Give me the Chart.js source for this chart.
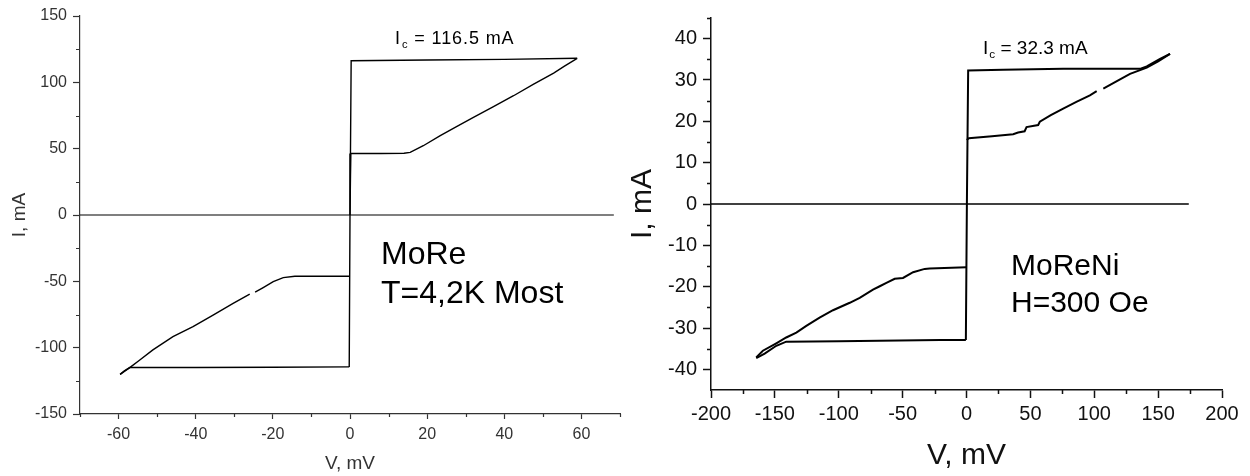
<!DOCTYPE html>
<html>
<head>
<meta charset="utf-8">
<script src="https://cdn.jsdelivr.net/npm/chart.js@4.4.1/dist/chart.umd.min.js"></script>
<style>
  html, body { margin: 0; padding: 0; background: #fff; }
  body { width: 1250px; height: 476px; position: relative; overflow: hidden;
         font-family: 'Liberation Sans', Arial, sans-serif; }
  .panel { position: absolute; top: 0; height: 476px; }
  .note { position: absolute; color: #000; white-space: nowrap; }
  .sub { font-size: 0.62em; position: relative; top: 0.38em; margin-left: 1px; }
</style>
</head>
<body>
<div class="panel" style="left:0;width:625px"><canvas id="more" width="625" height="476"></canvas></div>
<div class="panel" style="left:625px;width:625px"><canvas id="moreni" width="625" height="476"></canvas></div>

<div class="note" style="left:395px;top:29px;font-size:18px;line-height:18px;letter-spacing:0.9px">I<span class="sub">c</span> = 116.5 mA</div>
<div class="note" style="left:381px;top:234px;font-size:32px;line-height:39px">MoRe<br>T=4,2K Most</div>

<div class="note" style="left:983px;top:38px;font-size:19px;line-height:19px">I<span class="sub">c</span> = 32.3 mA</div>
<div class="note" style="left:1011px;top:246px;font-size:30px;line-height:37px">MoReNi<br>H=300 Oe</div>

<script>
// ---- left panel: MoRe, T=4,2K (V in mV, I in mA) ----
const moreTicksV = [-60, -40, -20, 0, 20, 40, 60];
const moreTicksI = [-150, -100, -50, 0, 50, 100, 150];
const moreMinorV = [-70, -50, -30, -10, 10, 30, 50, 70];
const moreMinorI = [-125, -75, -25, 25, 75, 125];

// jump at V=0 and superconducting branch up to the top
const moreUpV = [-0.2, 0, 0.3, 20, 40, 58.9];
const moreUpI = [-114.5, 0, 116.3, 116.8, 117.3, 118.1];
// return on the positive side
const moreBackV = [58.9, 55.5, 52.8, 47.5, 42.4, 37.2, 32.0, 27.5, 23.4, 19.0, 15.6, 14.0, 8, 0.2, 0];
const moreBackI = [118.1, 112, 107, 98.5, 89.9, 81.7, 73.6, 66.5, 59.8, 52.2, 47.2, 46.5, 46.4, 46.4, 0];
// negative side, going down
const moreDownV = [0, -6, -14.3, -17.3, -19.9, -22.5, -24.6, -25.3, -26.0, -30.3, -35.5, -40.7, -45.9, -51.1, -54.5, -57.1, -59.6];
const moreDownI = [-46.2, -46.2, -46.2, -47.2, -50.2, -54.7, -58.2, null, -59.6, -66.6, -75.4, -84.2, -91.7, -101.7, -109.3, -115.0, -120.1];
// return on the negative side
const moreRetV = [-59.6, -58.5, -57.1, -40, -20, -0.2];
const moreRetI = [-120.1, -117.5, -115.0, -115.0, -114.8, -114.5];
const moreZeroV = [-70, 68.4];

// ---- right panel: MoReNi, H=300 Oe ----
const niTicksV = [-200, -150, -100, -50, 0, 50, 100, 150, 200];
const niTicksI = [-40, -30, -20, -10, 0, 10, 20, 30, 40];
const niMinorV = [-175, -125, -75, -25, 25, 75, 125, 175];
const niMinorI = [-35, -25, -15, -5, 5, 15, 25, 35, 45];

const niUpV = [-0.5, 0.3, 1.3, 28.7, 75.7, 135.8, 141.1, 151.5, 159.3];
const niUpI = [-32.9, 0, 32.3, 32.45, 32.7, 32.7, 33.3, 35.1, 36.3];
const niBackV = [159.3, 150, 141.1, 128, 117, 107.1, 104.5, 101.9, 96.6, 86, 75.7, 66, 57.4, 56.1, 47.0, 45.5, 40.4, 36.5, 20, 1.8, 0.2];
const niBackI = [36.3, 34.5, 33.0, 31.5, 29.6, 27.9, null, 27.3, 26.3, 24.7, 23.1, 21.5, 19.9, 19.1, 18.6, 17.6, 17.3, 16.9, 16.4, 15.9, 15.5];
const niDownV = [0, -28.8, -32.7, -41.8, -49.7, -56.2, -62.7, -67.9, -73.2, -83.6, -91.4, -104.5, -115, -125.4, -133.2, -141.1, -148.9, -159.4, -164.6];
const niDownI = [-15.3, -15.6, -15.7, -16.5, -17.9, -18.1, -19.1, -19.9, -20.7, -22.7, -23.9, -25.7, -27.5, -29.5, -31.1, -32.3, -33.7, -35.5, -37.1];
const niRetV = [-164.6, -158, -148.9, -141.1, -100, -20.9, -0.5];
const niRetI = [-37.3, -36.2, -34.3, -33.3, -33.2, -32.9, -32.9];
const niZeroV = [-200, 174];

const FONT = "'Liberation Sans', Arial, sans-serif";

function pts(vs, is) {
  return vs.map((v, k) => ({ x: v, y: is[k] }));
}

// minor ticks, placed through the chart's own scales
const minorTicks = {
  id: 'minorTicks',
  afterDraw(chart, args, o) {
    const { ctx } = chart;
    const xs = chart.scales.x, ys = chart.scales.y;
    ctx.save();
    ctx.strokeStyle = o.color;
    ctx.lineWidth = o.width;
    ctx.beginPath();
    o.xValues.forEach(v => {
      const px = Math.round(xs.getPixelForValue(v)) + 0.5;
      ctx.moveTo(px, xs.top);
      ctx.lineTo(px, xs.top + o.xLen);
    });
    o.yValues.forEach(v => {
      const py = Math.round(ys.getPixelForValue(v)) + 0.5;
      ctx.moveTo(ys.right, py);
      ctx.lineTo(ys.right - o.yLen, py);
    });
    ctx.stroke();
    ctx.restore();
  }
};

function makeChart(id, s) {
  const line = (data, w) => ({
    data, showLine: true, borderColor: '#000', borderWidth: w,
    pointRadius: 0, tension: 0, spanGaps: false
  });
  return new Chart(document.getElementById(id), {
    type: 'scatter',
    data: {
      datasets: [
        line(pts(s.zeroV, [0, 0]), s.zeroWidth),
        ...s.branches.map(b => line(pts(b[0], b[1]), s.lineWidth))
      ]
    },
    options: {
      responsive: false,
      animation: false,
      devicePixelRatio: 1,
      layout: { padding: s.padding },
      plugins: {
        legend: { display: false },
        tooltip: { enabled: false },
        minorTicks: {
          color: s.axisColor, width: s.axisWidth,
          xValues: s.minorV, yValues: s.minorI, xLen: s.minorLenX, yLen: s.minorLenY
        }
      },
      scales: {
        x: {
          type: 'linear', min: s.xMin, max: s.xMax,
          afterBuildTicks: sc => { sc.ticks = s.ticksV.map(v => ({ value: v })); },
          afterFit: sc => { sc.height = s.xHeight; },
          border: { color: s.axisColor, width: s.axisWidth },
          grid: { drawOnChartArea: false, tickLength: s.tickLenX, tickColor: s.axisColor, tickWidth: s.axisWidth },
          ticks: { color: s.labelColor, font: { family: FONT, size: s.tickSize }, padding: s.tickPadX, maxRotation: 0, autoSkip: false },
          title: { display: true, text: 'V, mV', color: s.labelColor, font: { family: FONT, size: s.titleSize }, padding: { top: 0, bottom: s.titlePadX } }
        },
        y: {
          type: 'linear', min: s.yMin, max: s.yMax,
          afterBuildTicks: sc => { sc.ticks = s.ticksI.map(v => ({ value: v })); },
          afterFit: sc => { sc.width = s.yWidth; },
          border: { color: s.axisColor, width: s.axisWidth },
          grid: { drawOnChartArea: false, tickLength: s.tickLenY, tickColor: s.axisColor, tickWidth: s.axisWidth },
          ticks: { color: s.labelColor, font: { family: FONT, size: s.tickSize }, padding: s.tickPadY, autoSkip: false },
          title: { display: true, text: 'I, mA', color: s.labelColor, font: { family: FONT, size: s.titleSize }, padding: { top: s.titlePadY, bottom: 0 } }
        }
      }
    },
    plugins: [minorTicks]
  });
}

makeChart('more', {
  xMin: -70, xMax: 70, yMin: -150, yMax: 150,
  ticksV: moreTicksV, ticksI: moreTicksI, minorV: moreMinorV, minorI: moreMinorI,
  zeroV: moreZeroV, zeroWidth: 1.2, lineWidth: 1.4,
  branches: [[moreUpV, moreUpI], [moreBackV, moreBackI], [moreDownV, moreDownI], [moreRetV, moreRetI]],
  padding: { left: 0, right: 5, top: 16, bottom: 0 },
  xHeight: 62, yWidth: 80,
  axisColor: '#333', axisWidth: 1.2, labelColor: '#333',
  tickSize: 16, titleSize: 19,
  tickLenX: 5, tickLenY: 7, minorLenX: 3, minorLenY: 4,
  tickPadX: 6, tickPadY: 6, titlePadX: 1, titlePadY: 8
});

makeChart('moreni', {
  xMin: -200, xMax: 200, yMin: -45, yMax: 45,
  ticksV: niTicksV, ticksI: niTicksI, minorV: niMinorV, minorI: niMinorI,
  zeroV: niZeroV, zeroWidth: 1.3, lineWidth: 2,
  branches: [[niUpV, niUpI], [niBackV, niBackI], [niDownV, niDownI], [niRetV, niRetI]],
  padding: { left: 0, right: 28, top: 15, bottom: 0 },
  xHeight: 86, yWidth: 86,
  axisColor: '#111', axisWidth: 1.5, labelColor: '#111',
  tickSize: 20, titleSize: 30,
  tickLenX: 8, tickLenY: 8, minorLenX: 4, minorLenY: 4,
  tickPadX: 4, tickPadY: 6, titlePadX: 2, titlePadY: 0
});
</script>
</body>
</html>
